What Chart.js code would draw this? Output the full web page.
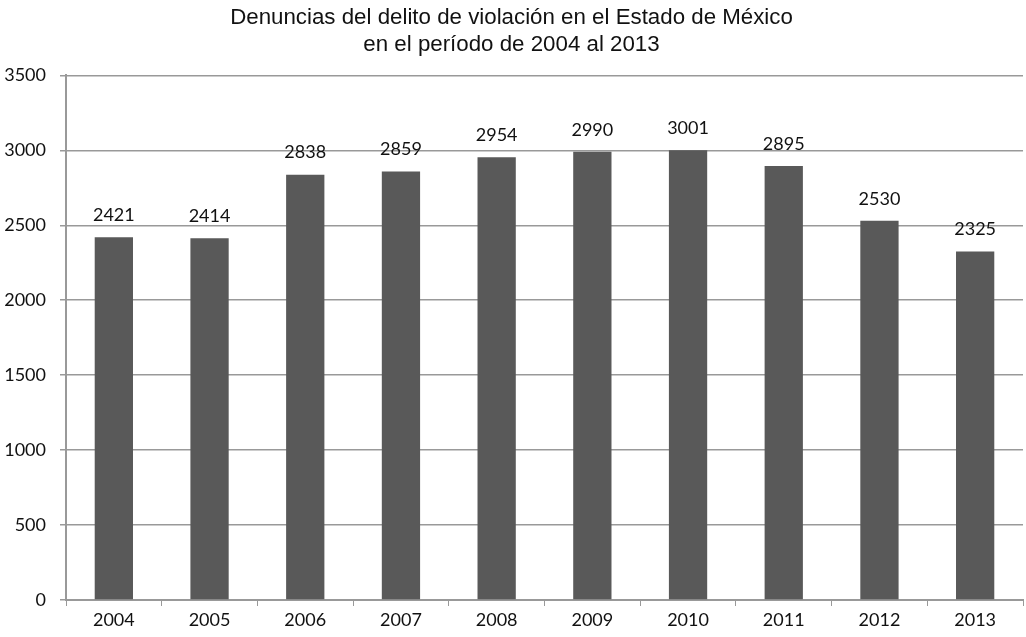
<!DOCTYPE html>
<html>
<head>
<meta charset="utf-8">
<script src="https://cdn.jsdelivr.net/npm/chart.js@4"></script>
<style>
  html, body { margin: 0; padding: 0; background: #fff; }
  #wrap { width: 1026px; height: 637px; }
</style>
</head>
<body>
<div id="wrap"><canvas id="chart" width="1026" height="637"></canvas></div>
<script>
// data
const years = ["2004", "2005", "2006", "2007", "2008", "2009", "2010", "2011", "2012", "2013"];
const denuncias = [2421, 2414, 2838, 2859, 2954, 2990, 3001, 2895, 2530, 2325];
const titleLines = ["Denuncias del delito de violación en el Estado de México", "en el período de 2004 al 2013"];

const tickFont = { family: "Lato, 'Open Sans', sans-serif", size: 18 };

// draws the value on top of each bar
const barValues = {
  id: "barValues",
  afterDatasetsDraw(chart) {
    const ctx = chart.ctx;
    const meta = chart.getDatasetMeta(0);
    ctx.save();
    ctx.font = "18px Lato, 'Open Sans', sans-serif";
    ctx.fillStyle = "#111";
    ctx.textAlign = "center";
    ctx.textBaseline = "bottom";
    meta.data.forEach((bar, i) => {
      ctx.fillText(String(denuncias[i]), bar.x, bar.y - 13);
    });
    ctx.restore();
  }
};

new Chart(document.getElementById("chart"), {
  type: "bar",
  data: {
    labels: years,
    datasets: [{
      data: denuncias,
      backgroundColor: "#595959",
      barPercentage: 0.4,
      categoryPercentage: 1.0
    }]
  },
  options: {
    responsive: false,
    animation: false,
    layout: { padding: { left: 0, right: 3, top: 0, bottom: 0 } },
    plugins: {
      legend: { display: false },
      tooltip: { enabled: false },
      title: {
        display: true,
        text: titleLines,
        color: "#111",
        font: { family: "'Liberation Sans', Arial, sans-serif", size: 22.3, weight: "normal", lineHeight: 1.22 },
        padding: { top: 4, bottom: 17 }
      }
    },
    scales: {
      x: {
        grid: { display: true, drawOnChartArea: false, color: "#999", tickLength: 6, offset: true },
        border: { color: "#999", width: 2 },
        ticks: { color: "#111", font: tickFont, padding: 3 },
        afterFit(s) { s.height = 37; }
      },
      y: {
        min: 0,
        max: 3500,
        ticks: { stepSize: 500, color: "#111", font: tickFont, padding: 14, callback: v => String(v) },
        grid: { color: "#999", lineWidth: 1.5, tickLength: 6 },
        border: { color: "#999", width: 2 },
        afterFit(s) { s.width = 66; }
      }
    }
  },
  plugins: [barValues]
});
</script>
</body>
</html>
